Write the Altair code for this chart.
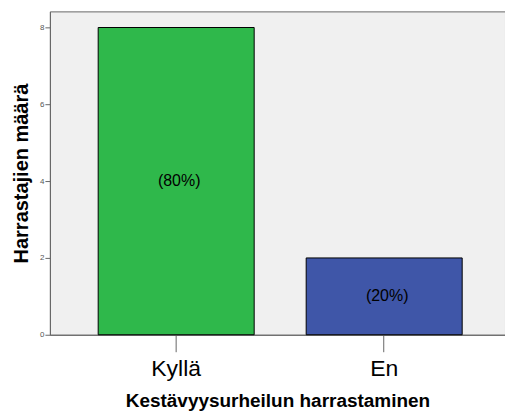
import altair as alt
import pandas as pd

# Endurance-sport participation: counts per answer and their percentage labels
categories = ["Kyllä", "En"]
counts = [8, 2]
percent_labels = ["(80%)", "(20%)"]
bar_colors = ["#2fb84b", "#3f56a8"]

df = pd.DataFrame({
    "vastaus": categories,
    "maara": counts,
    "osuus": percent_labels,
})

FONT = "Liberation Sans"
AXIS_GREY = "#666666"

x_enc = alt.X(
    "vastaus:N",
    sort=categories,
    scale=alt.Scale(paddingInner=0.25, paddingOuter=0.219, align=0.53),
    axis=alt.Axis(
        title="Kestävyysurheilun harrastaminen",
        labelAngle=0,
        labelFontSize=23,
        labelFont=FONT,
        labelColor="black",
        labelPadding=6,
        tickSize=17,
        tickColor=AXIS_GREY,
        domainColor=AXIS_GREY,
        titleFont=FONT,
        titleFontSize=19,
        titleFontWeight="bold",
        titleColor="black",
        titlePadding=11,
    ),
)

y_enc = alt.Y(
    "maara:Q",
    scale=alt.Scale(domain=[0, 8.42], nice=False),
    axis=alt.Axis(
        title="Harrastajien määrä",
        values=[0, 2, 4, 6, 8],
        format="d",
        grid=False,
        labelFontSize=8,
        labelFont=FONT,
        labelColor="#555555",
        labelPadding=1,
        tickSize=5,
        tickColor=AXIS_GREY,
        domainColor=AXIS_GREY,
        titleFont=FONT,
        titleFontSize=20,
        titleFontWeight="bold",
        titleColor="black",
        titlePadding=8,
    ),
)

bars = alt.Chart(df).mark_bar(stroke="black", strokeWidth=1).encode(
    x=x_enc,
    y=y_enc,
    color=alt.Color(
        "vastaus:N",
        sort=categories,
        scale=alt.Scale(domain=categories, range=bar_colors),
        legend=None,
    ),
)

labels = alt.Chart(df).transform_calculate(
    keski="datum.maara / 2"
).mark_text(font=FONT, fontSize=16, color="black", dx=3).encode(
    x=alt.X("vastaus:N", sort=categories),
    y=alt.Y("keski:Q"),
    text="osuus:N",
)

chart = (
    alt.layer(bars, labels)
    .properties(
        width=456,
        height=324,
        autosize=alt.AutoSizeParams(type="none"),
        padding={"left": 50, "top": 11, "right": 0, "bottom": 77},
        background="white",
    )
    .configure_view(fill="#f0f0f0", stroke=AXIS_GREY, strokeWidth=1)
)

chart.save("out.html", embed_options={"renderer": "svg", "actions": False})
